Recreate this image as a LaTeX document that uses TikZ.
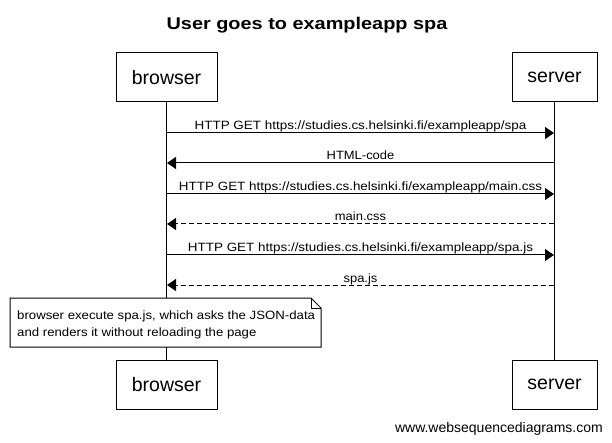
\documentclass[tikz,border=0pt]{standalone}
\usepackage{fontspec}
\setmainfont{Liberation Sans}
\usepackage{graphicx}
\usetikzlibrary{arrows.meta,calc}
\newcommand\hstretch[2]{\scalebox{#1}[1]{#2}}
\begin{document}
\begin{tikzpicture}[x=1pt,y=-1pt,
  actor/.style={draw,line width=1pt,minimum height=49pt,inner sep=0pt,font=\fontsize{19.5}{22}\selectfont},
  life/.style={line width=1pt},
  msg/.style={line width=1pt,-{Triangle[length=9pt,width=12pt]}},
  reply/.style={msg,dash pattern=on 5pt off 3pt},
  lbl/.style={anchor=base,inner sep=0pt,font=\fontsize{12}{14}\selectfont},
  notebox/.style={line width=1pt,fill=white},
  notetext/.style={anchor=base west,inner sep=0pt,align=left,font=\fontsize{12}{16.8}\selectfont},
]
\useasboundingbox (0,0) rectangle (612,443);
\fill[white] (0,0) rectangle (612,443);

% title
\node[anchor=base,inner sep=0pt,font=\fontsize{17}{20}\selectfont\bfseries] (title) at (307,30) {\hstretch{1.17}{User goes to exampleapp spa}};

% participants
\node[actor,minimum width=101pt] (bt) at (166.5,77.5) {browser};
\node[actor,minimum width=85pt] (st) at (554.5,77.5) {server};
\node[actor,minimum width=101pt] (bb) at (166.5,384.5) {browser};
\node[actor,minimum width=85pt] (sb) at (554.5,384.5) {server};

% lifelines
\draw[life] (bt.south) -- (bb.north);
\draw[life] (st.south) -- (sb.north);

% message end points
\foreach \i/\y in {1/133,2/163,3/194,4/224,5/255,6/285}{
  \coordinate (b\i) at (167,\y);
  \coordinate (s\i) at (554,\y);
}

\draw[msg] (b1) -- (s1);
\node[lbl] (l1) at ([yshift=3pt]$(b1)!0.5!(s1)$) {\hstretch{1.12}{HTTP GET https://studies.cs.helsinki.fi/exampleapp/spa}};
\draw[msg] (s2) -- (b2);
\node[lbl] (l2) at ([yshift=3pt]$(b2)!0.5!(s2)$) {\hstretch{1.08}{HTML-code}};
\draw[msg] (b3) -- (s3);
\node[lbl] (l3) at ([yshift=3pt]$(b3)!0.5!(s3)$) {\hstretch{1.12}{HTTP GET https://studies.cs.helsinki.fi/exampleapp/main.css}};
\draw[reply] (s4) -- (b4);
\node[lbl] (l4) at ([yshift=3pt]$(b4)!0.5!(s4)$) {\hstretch{1.08}{main.css}};
\draw[msg] (b5) -- (s5);
\node[lbl] (l5) at ([yshift=3pt]$(b5)!0.5!(s5)$) {\hstretch{1.12}{HTTP GET https://studies.cs.helsinki.fi/exampleapp/spa.js}};
\draw[reply] (s6) -- (b6);
\node[lbl] (l6) at ([yshift=3pt]$(b6)!0.5!(s6)$) {\hstretch{1.08}{spa.js}};

% note
\coordinate (nnw) at (10,298);
\coordinate (nne) at (321,298);
\coordinate (nse) at (321,347);
\coordinate (nsw) at (10,347);
\coordinate (nf1) at (311,298);
\coordinate (nf2) at (321,308);
\coordinate (nf3) at (311,308);
\draw[notebox] (nnw) -- (nf1) -- (nf2) -- (nse) -- (nsw) -- cycle;
\draw[line width=0.8pt] (nf1) -- (nf3) -- (nf2);
\node[notetext] (note) at (17,336) {\hstretch{1.1}{browser execute spa.js, which asks the JSON-data}\\\hstretch{1.1}{and renders it without reloading the page}};

% footer
\node[anchor=base east,inner sep=0pt,font=\fontsize{14}{16}\selectfont] (footer) at (603,432.5) {www.websequencediagrams.com};
\end{tikzpicture}
\end{document}
